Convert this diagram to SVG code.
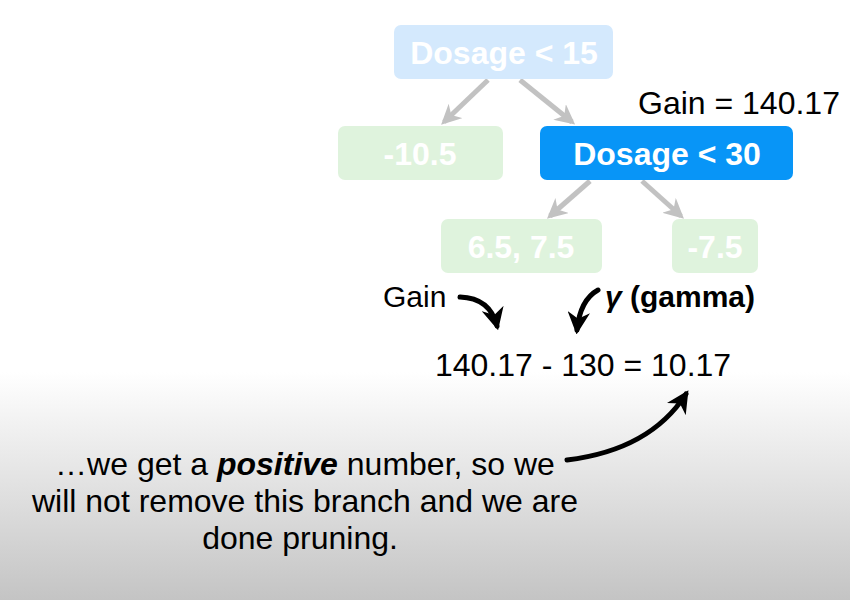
<svg xmlns="http://www.w3.org/2000/svg" width="850" height="600" viewBox="0 0 850 600">
<defs>
<linearGradient id="bg" x1="0" y1="0" x2="0" y2="1">
<stop offset="0" stop-color="#ffffff"/>
<stop offset="0.62" stop-color="#ffffff"/>
<stop offset="1" stop-color="#c4c4c4"/>
</linearGradient>
<marker id="ga" viewBox="0 0 10 10" refX="8" refY="5" markerWidth="4" markerHeight="4" orient="auto" markerUnits="strokeWidth">
<path d="M0,0 L10,5 L0,10 L3,5 Z" fill="#c2c2c2"/>
</marker>
<marker id="ba" viewBox="0 0 10 10" refX="8" refY="5" markerWidth="4.5" markerHeight="4.5" orient="auto" markerUnits="strokeWidth">
<path d="M0,0 L10,5 L0,10 L3,5 Z" fill="#000"/>
</marker>
</defs>
<style>
.nt{font-family:"Liberation Sans",Arial,sans-serif;font-weight:bold;fill:#fff;text-anchor:middle}
.t{font-family:"Liberation Sans",Arial,sans-serif;fill:#000}
.g{stroke:#c2c2c2;stroke-width:5;fill:none;marker-end:url(#ga)}
.b{stroke:#000;stroke-width:5;fill:none;marker-end:url(#ba);stroke-linecap:round}
</style>
<rect width="850" height="600" fill="url(#bg)"/>
<g id="connectors">
<line class="g" x1="488" y1="80" x2="444" y2="122"/>
<line class="g" x1="520" y1="80" x2="572" y2="122"/>
<line class="g" x1="590" y1="181" x2="550" y2="216"/>
<line class="g" x1="642" y1="181" x2="681" y2="216"/>
<path class="b" d="M460,297 Q490,298 497,326"/>
<path class="b" d="M598,290 Q580,300 577,330"/>
<path class="b" d="M567,460 Q650,450 686,394"/>
</g>
<g id="n1">
<rect x="394" y="25" width="219" height="54" rx="7" fill="#d4e9fd"/>
<text class="nt" x="504" y="64" font-size="32">Dosage &lt; 15</text>
</g>
<g id="n2">
<rect x="338" y="126" width="165" height="54" rx="7" fill="#dff3dd"/>
<text class="nt" x="420" y="165" font-size="32">-10.5</text>
</g>
<g id="n3">
<rect x="540" y="126" width="253" height="54" rx="7" fill="#0895f7"/>
<text class="nt" x="667" y="165" font-size="32">Dosage &lt; 30</text>
</g>
<g id="n4">
<rect x="441" y="219" width="161" height="54" rx="7" fill="#dff3dd"/>
<text class="nt" x="521" y="258" font-size="32">6.5, 7.5</text>
</g>
<g id="n5">
<rect x="672" y="219" width="86" height="54" rx="7" fill="#dff3dd"/>
<text class="nt" x="715" y="258" font-size="32">-7.5</text>
</g>
<text class="t" x="638" y="114" font-size="32">Gain = 140.17</text>
<text class="t" x="383" y="307" font-size="30">Gain</text>
<text class="t" x="605" y="307" font-size="30" font-weight="bold"><tspan font-style="italic">γ</tspan> (gamma)</text>
<text class="t" x="583" y="376" font-size="32" text-anchor="middle">140.17 - 130 = 10.17</text>
<g class="t" font-size="32" text-anchor="middle">
<text x="305" y="475">…we get a <tspan font-weight="bold" font-style="italic">positive</tspan> number, so we</text>
<text x="305" y="512">will not remove this branch and we are</text>
<text x="300" y="549">done pruning.</text>
</g>
</svg>
